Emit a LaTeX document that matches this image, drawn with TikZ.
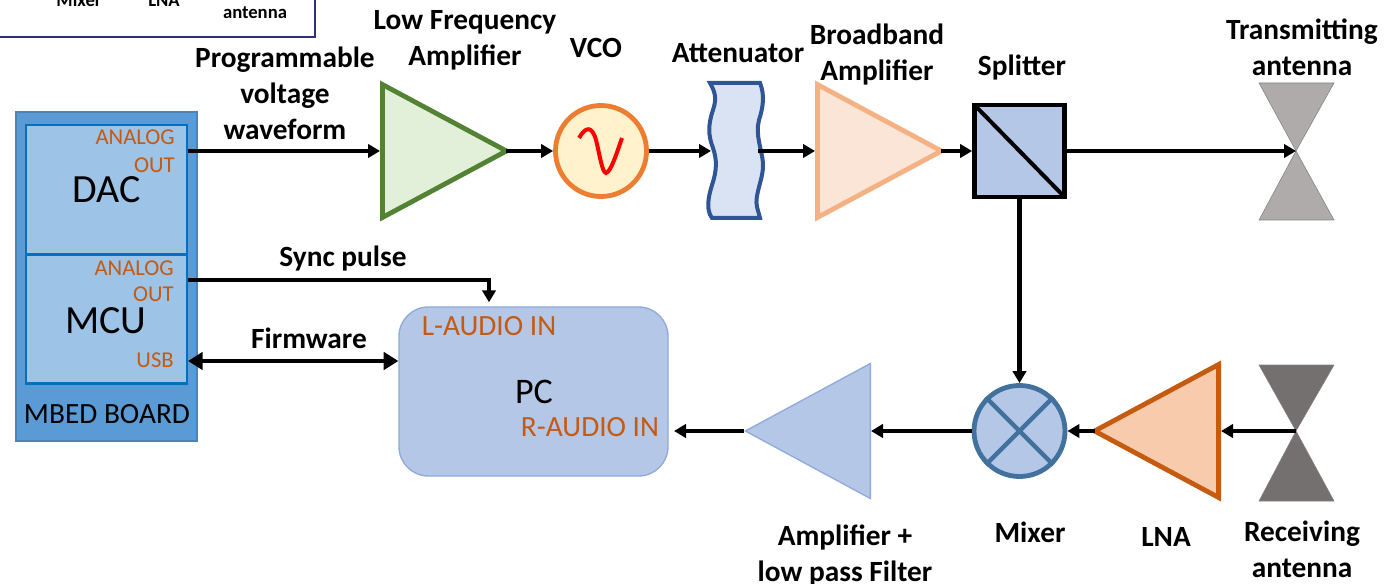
\documentclass[tikz,border=0pt]{standalone}
\usepackage{fontspec}
\setmainfont{Carlito}
\usetikzlibrary{arrows.meta,shapes.geometric}
\def\px{0.75pt}
\definecolor{boardblue}{HTML}{5B9BD5}
\definecolor{chipblue}{HTML}{9DC3E6}
\definecolor{chipline}{HTML}{0070C0}
\definecolor{portorange}{HTML}{C55A11}
\definecolor{paleblue}{HTML}{B4C7E7}
\definecolor{midblue}{HTML}{8FAADC}
\definecolor{steelblue}{HTML}{41719C}
\definecolor{txgray}{HTML}{AFABAB}
\definecolor{rxgray}{HTML}{757070}
\definecolor{keynavy}{HTML}{2F2F80}
\tikzset{
  sigline/.style={line width=3.2pt,-{Triangle[length=9pt,width=10pt]}},
  bothline/.style={line width=3.2pt,{Triangle[length=11pt,width=13pt]}-{Triangle[length=11pt,width=13pt]}},
  caption/.style={font=\fontsize{22}{27}\selectfont\bfseries,align=center,inner sep=0pt},
  keytext/.style={font=\fontsize{14}{16}\selectfont\bfseries,inner sep=0pt},
  portlabel/.style={font=\fontsize{17}{20}\selectfont,text=portorange,inner sep=0pt},
  pclabelstyle/.style={font=\fontsize{22}{24}\selectfont,text=portorange,inner sep=0pt},
  chipbox/.style={draw=chipline,fill=chipblue,line width=2pt,minimum width=161*\px,minimum height=129*\px},
  ampshape/.style={isosceles triangle,isosceles triangle stretches,inner sep=0pt,minimum width=133*\px,minimum height=124*\px,line width=3.6pt,anchor=lower side},
  ampleft/.style={ampshape,shape border rotate=180},
  roundblock/.style={circle,inner sep=0pt,minimum size=91*\px,line width=3.6pt},
}
\begin{document}
\begin{tikzpicture}[x=0.75pt,y=-0.75pt]
\useasboundingbox (0,0) rectangle (1384,584);
\clip (0,0) rectangle (1384,584);
% cut off key at the top
\draw[draw=keynavy,line width=2pt] (-5,37) -- (315,37) -- (315,-5);
\node[keytext] (keymixer) at (79,0) {Mixer};
\node[keytext] (keylna) at (164,0) {LNA};
\node[keytext] (keyant) at (255,13) {antenna};
% board
\node[draw=boardblue!85!black,fill=boardblue,line width=0.8pt,minimum width=181*\px,minimum height=329*\px] (board) at (106.5,276.5) {};
\node[chipbox] (dac) at (106.5,189.5) {};
\node[chipbox] (mcu) at (106.5,319) {};
\node[font=\fontsize{30}{32}\selectfont,inner sep=0pt] (daclabel) at (107,190) {DAC};
\node[font=\fontsize{30}{32}\selectfont,inner sep=0pt] (mculabel) at (106,321) {MCU};
\node[font=\fontsize{22}{24}\selectfont,inner sep=0pt] (boardlabel) at (107,414) {MBED BOARD};
\node[portlabel,anchor=east] (dacport) at (175,137) {ANALOG};
\node[portlabel,anchor=east] (dacout) at (175,165) {OUT};
\node[portlabel,anchor=east] (mcuport) at (174,268) {ANALOG};
\node[portlabel,anchor=east] (mcuout) at (174,294) {OUT};
\node[portlabel,anchor=east] (usb) at (174,360) {USB};
\coordinate (dacedge) at (188,151);
\coordinate (syncedge) at (188,280);
\coordinate (usbedge) at (188,361);
% top row
\node[ampshape,draw={rgb,255:red,84;green,130;blue,53},fill={rgb,255:red,226;green,240;blue,217}] (lfa) at (380,151) {};
\node[roundblock,draw={rgb,255:red,237;green,125;blue,49},fill={rgb,255:red,255;green,242;blue,204}] (vco) at (601,151) {};
\draw[red,line width=3pt] (579,138) .. controls (586,126) and (592,126) .. (596,140) .. controls (600,156) and (602,172) .. (606,173) .. controls (611,172) and (617,152) .. (622,138);
\draw[draw={rgb,255:red,47;green,85;blue,151},fill={rgb,255:red,218;green,227;blue,243},line width=3pt] (710,83) -- (760,83) .. controls (765,95) and (763,108) .. (759,120) .. controls (755,135) and (762,150) .. (763,163) .. controls (764,178) and (754,195) .. (757,207) -- (760,218) -- (712,218) .. controls (706,210) and (708,198) .. (712,185) .. controls (717,170) and (717,160) .. (713,148) .. controls (708,135) and (708,125) .. (713,110) .. controls (717,98) and (715,92) .. (710,83) -- cycle;
\coordinate (attin) at (711,151);
\coordinate (attout) at (758,151);
\node[ampshape,draw={rgb,255:red,244;green,177;blue,131},fill={rgb,255:red,251;green,229;blue,214}] (bba) at (815,151) {};
\node[draw=black,fill=paleblue,line width=3.6pt,minimum width=90*\px,minimum height=92*\px] (split) at (1019.5,151) {};
\draw[line width=3pt,shorten >=2pt,shorten <=2pt] (split.north west) -- (split.south east);
\coordinate (txant) at (1296,151);
\fill[txgray,draw=gray] (txant) -- (1259,83) -- (1334,83) -- cycle;
\fill[txgray,draw=gray] (txant) -- (1259,220) -- (1334,220) -- cycle;
% bottom row
\node[draw=midblue,fill=paleblue,line width=1pt,rounded corners=22pt,minimum width=269*\px,minimum height=169*\px] (pc) at (533.5,391.5) {};
\node[font=\fontsize{27}{30}\selectfont,inner sep=0pt] (pclabel) at (534,392) {PC};
\node[pclabelstyle] (lin) at (489,326) {L-AUDIO IN};
\node[pclabelstyle] (rin) at (590,427) {R-AUDIO IN};
\node[ampleft,draw=midblue,fill=paleblue,line width=1pt,minimum width=135*\px,minimum height=125*\px] (filt) at (871,431) {};
\node[roundblock,draw=steelblue,fill=paleblue] (mix) at (1019.5,431) {};
\draw[steelblue,line width=3.4pt] (mix.north west) -- (mix.south east);
\draw[steelblue,line width=3.4pt] (mix.north east) -- (mix.south west);
\node[ampleft,draw=portorange,fill={rgb,255:red,248;green,203;blue,173}] (lna) at (1221,431) {};
\coordinate (rxant) at (1296,431);
\fill[rxgray,draw=gray] (rxant) -- (1259,365) -- (1334,365) -- cycle;
\fill[rxgray,draw=gray] (rxant) -- (1259,501) -- (1334,501) -- cycle;
% connectors
\draw[sigline] (dacedge) -- (lfa.lower side);
\draw[sigline] ([xshift=-5pt]lfa.apex) -- (vco.west);
\draw[sigline] (vco.east) -- (attin);
\draw[sigline] (attout) -- (bba.lower side);
\draw[sigline] ([xshift=-5pt]bba.apex) -- (split.west);
\draw[sigline] (split.east) -- (txant);
\draw[sigline] (split.south) -- (mix.north);
\draw[sigline] (syncedge) -| ([yshift=3pt]pc.north -| lin);
\draw[bothline] (usbedge) -- (usbedge -| pc.west);
\draw[sigline] (rxant) -- (lna.lower side);
\draw[sigline] ([xshift=5pt]lna.apex) -- (mix.east);
\draw[sigline] (mix.west) -- (filt.lower side);
\draw[sigline] (filt.apex) -- ([xshift=4pt]pc.east |- filt.apex);
% captions
\node[caption] (progcap) at (285,93) {Programmable\\voltage\\waveform};
\node[caption] (lfacap) at (465,40) {Low Frequency\\Amplifier};
\node[caption] (vcocap) at (596,48) {VCO};
\node[caption] (attcap) at (738,53) {Attenuator};
\node[caption] (bbacap) at (877,55) {Broadband\\Amplifier};
\node[caption] (splitcap) at (1022,68) {Splitter};
\node[caption] (txcap) at (1302,47) {Transmitting\\antenna};
\node[caption] (synccap) at (343,259) {Sync pulse};
\node[caption] (fwcap) at (309,338) {Firmware};
\node[caption] (filtcap) at (845,555) {Amplifier +\\low pass Filter};
\node[caption] (mixcap) at (1030,532) {Mixer};
\node[caption] (lnacap) at (1166,537) {LNA};
\node[caption] (rxcap) at (1302,549) {Receiving\\antenna};
\end{tikzpicture}
\end{document}
